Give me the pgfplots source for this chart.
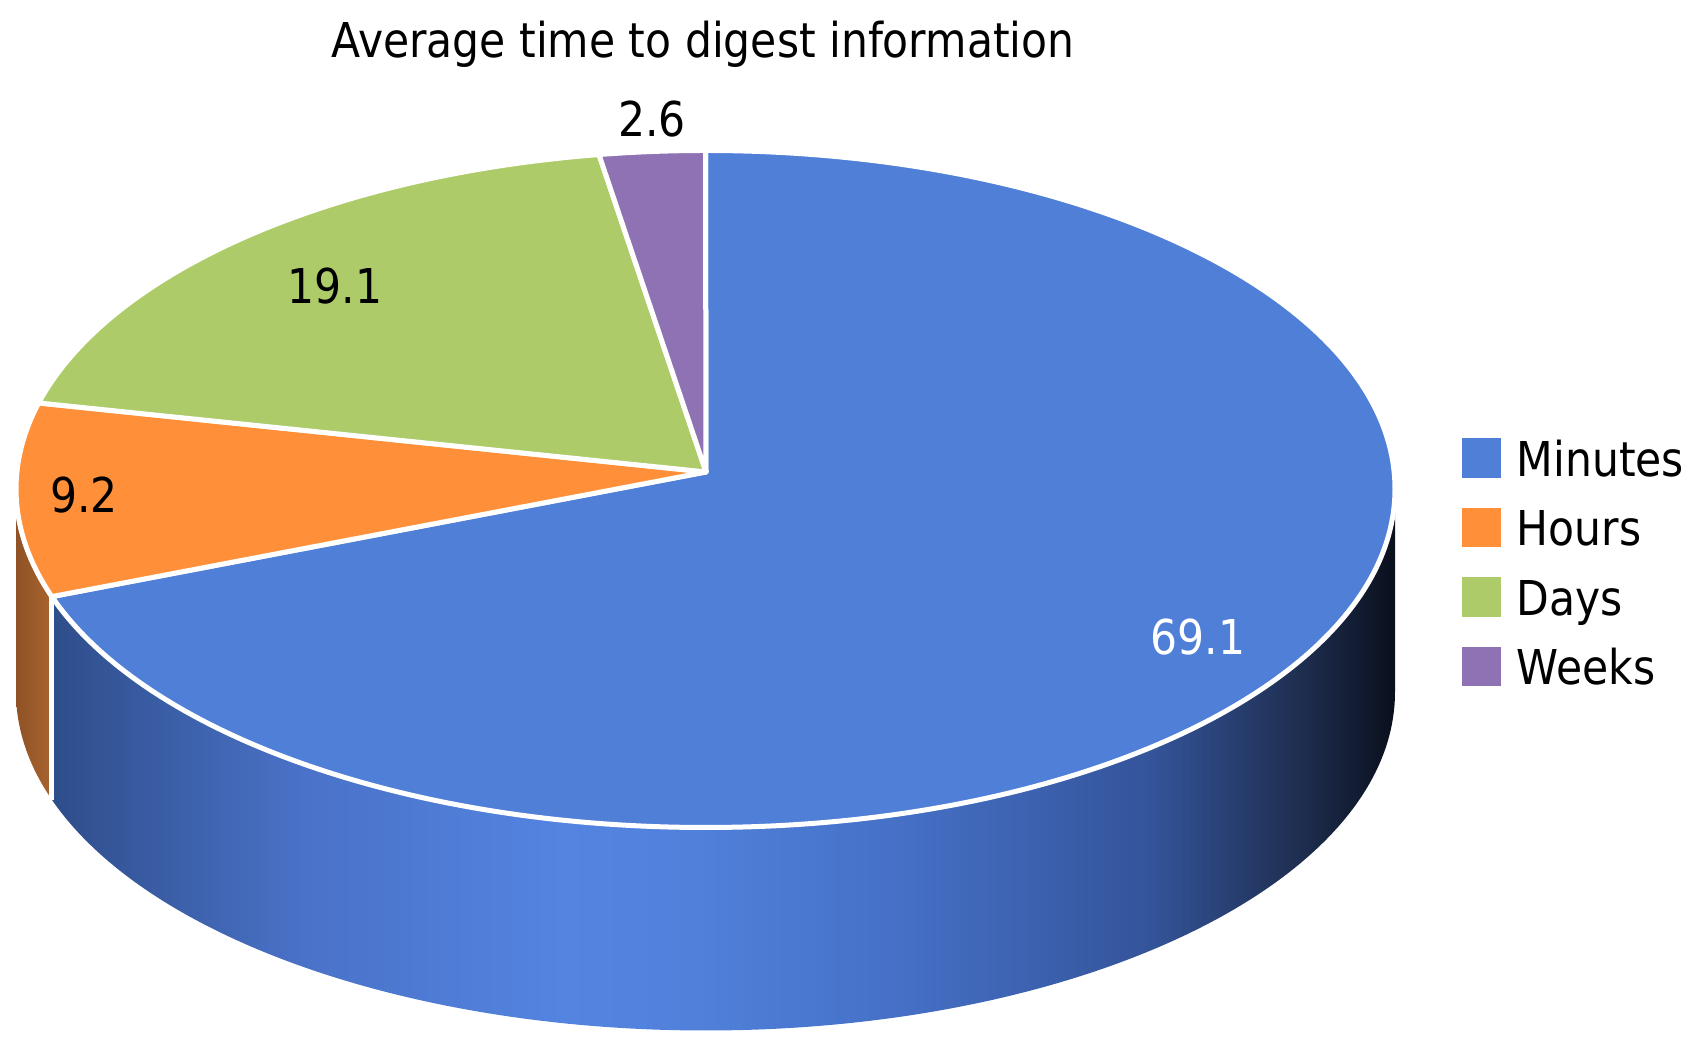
\documentclass[border=0pt]{standalone}
\usepackage{fontspec}
\setmainfont{DejaVu Sans}[FakeStretch=0.885]
\usepackage{pgfplots}
\usepackage{pgfplotstable}
\pgfplotsset{compat=1.18}
\definecolor{cMin}{HTML}{507FD8}
\definecolor{cHrs}{HTML}{FF8F38}
\definecolor{cDay}{HTML}{ADCC69}
\definecolor{cWk}{HTML}{8E72B4}
\definecolor{s1}{HTML}{2E4D8A}
\definecolor{s2}{HTML}{4A72C8}
\definecolor{s3}{HTML}{5384E0}
\definecolor{s4}{HTML}{5080DA}
\definecolor{s5}{HTML}{4570C6}
\definecolor{s6}{HTML}{34549A}
\definecolor{s7}{HTML}{1E2E50}
\definecolor{s8}{HTML}{0A0F1C}
\definecolor{o1}{HTML}{8F5226}
\definecolor{o2}{HTML}{A8642E}
\pgfdeclarehorizontalshading{bluesideshade}{100bp}{color(0bp)=(s1); color(25bp)=(s1); color(34.4bp)=(s2); color(44bp)=(s3); color(49bp)=(s4); color(56.6bp)=(s5); color(65.9bp)=(s6); color(71.5bp)=(s7); color(75bp)=(s8); color(100bp)=(s8)}
\pgfdeclarehorizontalshading{orangesideshade}{100bp}{color(0bp)=(o1); color(25bp)=(o1); color(75bp)=(o2); color(100bp)=(o2)}

\pgfplotstableread{
label value
Minutes 69.1
Hours 9.2
Days 19.1
Weeks 2.6
}\piedata

\newcommand\lbl{\fontsize{13.66}{16}\selectfont}

\begin{document}
\begin{tikzpicture}
\pgfplotstablegetelem{0}{value}\of\piedata \let\vA\pgfplotsretval
\pgfplotstablegetelem{1}{value}\of\piedata \let\vB\pgfplotsretval
\pgfplotstablegetelem{2}{value}\of\piedata \let\vC\pgfplotsretval
\pgfplotstablegetelem{3}{value}\of\piedata \let\vD\pgfplotsretval
\pgfmathsetmacro\tot{\vA+\vB+\vC+\vD}
% true angles (clockwise from 12 o'clock)
\pgfmathsetmacro\thO{90}
\pgfmathsetmacro\thA{\thO-(\vA/\tot)*360}
\pgfmathsetmacro\thB{\thA-(\vB/\tot)*360}
\pgfmathsetmacro\thC{\thB-(\vC/\tot)*360}
\pgfmathsetmacro\thD{\thC-(\vD/\tot)*360}
% perspective-corrected parametric angles on the rim ellipse
\pgfmathsetmacro\tO{\thO+2.9*cos(\thO)}
\pgfmathsetmacro\tA{\thA+2.9*cos(\thA)}
\pgfmathsetmacro\tB{\thB+2.9*cos(\thB)}
\pgfmathsetmacro\tC{\thC+2.9*cos(\thC)}
\pgfmathsetmacro\tD{\thD+2.9*cos(\thD)}
\pgfmathsetmacro\tAp{\tA+360}
% geometry (axis units = 0.1 mm)
\def\cx{705.5}\def\cy{553}\def\rx{689.5}\def\ry{338.5}
\def\ax{706}\def\ay{570}
\pgfmathsetmacro\xO{\cx+\rx*cos(\tO)}\pgfmathsetmacro\yO{\cy+\ry*sin(\tO)}
\pgfmathsetmacro\xA{\cx+\rx*cos(\tA)}\pgfmathsetmacro\yA{\cy+\ry*sin(\tA)}
\pgfmathsetmacro\xB{\cx+\rx*cos(\tB)}\pgfmathsetmacro\yB{\cy+\ry*sin(\tB)}
\pgfmathsetmacro\xC{\cx+\rx*cos(\tC)}\pgfmathsetmacro\yC{\cy+\ry*sin(\tC)}
\pgfmathsetmacro\xL{\cx-\rx}\pgfmathsetmacro\xR{\cx+\rx}
\begin{axis}[
  scale only axis, width=169.3mm, height=104.2mm,
  xmin=0, xmax=1693, ymin=0, ymax=1042,
  hide axis, clip=false,
]
\path (axis cs:0,0) rectangle (axis cs:1693,1042);
% --- side walls ---
\shade[shading=orangesideshade] (axis cs:\xL,\cy) arc[start angle=180, end angle=\tAp, x radius=68.95mm, y radius=33.85mm] -- ++(0,-20.3mm) arc[start angle=\tAp, end angle=180, x radius=68.95mm, y radius=33.85mm] -- cycle;
\shade[shading=bluesideshade] (axis cs:\xA,\yA) arc[start angle=\tAp, end angle=360, x radius=68.95mm, y radius=33.85mm] -- ++(0,-20.3mm) arc[start angle=360, end angle=\tAp, x radius=68.95mm, y radius=33.85mm] -- cycle;
\draw[white, line width=0.5mm] (axis cs:\xA,\yA) -- ++(0,-20.3mm);
% --- top faces ---
\filldraw[fill=cMin, draw=white, line width=0.5mm, line join=round] (axis cs:\ax,\ay) -- (axis cs:\xO,\yO) arc[start angle=\tO, end angle=\tA, x radius=68.95mm, y radius=33.85mm] -- cycle;
\filldraw[fill=cHrs, draw=white, line width=0.5mm, line join=round] (axis cs:\ax,\ay) -- (axis cs:\xA,\yA) arc[start angle=\tA, end angle=\tB, x radius=68.95mm, y radius=33.85mm] -- cycle;
\filldraw[fill=cDay, draw=white, line width=0.5mm, line join=round] (axis cs:\ax,\ay) -- (axis cs:\xB,\yB) arc[start angle=\tB, end angle=\tC, x radius=68.95mm, y radius=33.85mm] -- cycle;
\filldraw[fill=cWk, draw=white, line width=0.5mm, line join=round] (axis cs:\ax,\ay) -- (axis cs:\xC,\yC) arc[start angle=\tC, end angle=\tD, x radius=68.95mm, y radius=33.85mm] -- cycle;
% --- data labels ---
\node[anchor=base, inner sep=0pt, font=\lbl, text=white] at (axis cs:1198,387) {\vA};
\node[anchor=base, inner sep=0pt, font=\lbl] at (axis cs:84,529) {\vB};
\node[anchor=base, inner sep=0pt, font=\lbl] at (axis cs:335,738) {\vC};
\node[anchor=base, inner sep=0pt, font=\lbl] at (axis cs:652,905) {\vD};
% --- title ---
\node[anchor=base, inner sep=0pt, font=\lbl] at (axis cs:703,984) {Average time to digest information};
% --- legend ---
\fill[cMin] (axis cs:1462,564) rectangle (axis cs:1501,604);
\fill[cHrs] (axis cs:1462,495) rectangle (axis cs:1501,534);
\fill[cDay] (axis cs:1462,425) rectangle (axis cs:1501,465);
\fill[cWk]  (axis cs:1462,356) rectangle (axis cs:1501,395);
\node[anchor=base west, inner sep=0pt, font=\lbl] at (axis cs:1516,565) {Minutes};
\node[anchor=base west, inner sep=0pt, font=\lbl] at (axis cs:1516,496) {Hours};
\node[anchor=base west, inner sep=0pt, font=\lbl] at (axis cs:1516,426) {Days};
\node[anchor=base west, inner sep=0pt, font=\lbl] at (axis cs:1516,357) {Weeks};
\end{axis}
\end{tikzpicture}
\end{document}
